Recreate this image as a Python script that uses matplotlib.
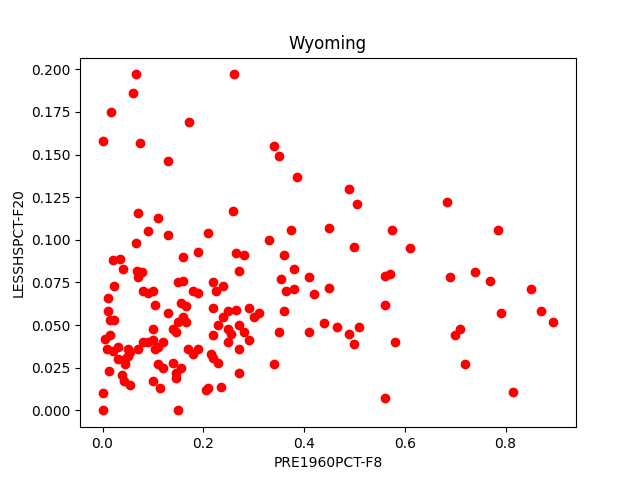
import matplotlib
matplotlib.use("Agg")
import matplotlib.pyplot as plt

pre1960 = [0.0, 0.017, 0.06, 0.066, 0.075, 0.13, 0.172, 0.26,
           0.07, 0.11, 0.258, 0.21, 0.34, 0.35, 0.385, 0.49, 0.505, 0.683,
           0.09, 0.13, 0.33, 0.375, 0.45, 0.575, 0.785,
           0.067, 0.5, 0.61, 0.19, 0.265, 0.28, 0.36, 0.16, 0.02, 0.035,
           0.04, 0.068, 0.078, 0.27, 0.38, 0.56, 0.57, 0.74, 0.69, 0.77, 0.41, 0.355,
           0.15, 0.16, 0.22, 0.24, 0.022, 0.07, 0.08, 0.09, 0.1, 0.18, 0.19, 0.225,
           0.365, 0.38, 0.42, 0.45, 0.85, 0.01, 0.105, 0.155, 0.165, 0.56, 0.22,
           0.25, 0.265, 0.29, 0.3, 0.31, 0.36, 0.01, 0.015, 0.022, 0.13, 0.16,
           0.165, 0.15, 0.24, 0.23, 0.25, 0.27, 0.79, 0.87, 0.895, 0.44, 0.465,
           0.49, 0.51, 0.41, 0.35, 0.71, 0.7, 0.1, 0.14, 0.145, 0.22, 0.255,
           0.005, 0.015, 0.08, 0.09, 0.1, 0.11, 0.105, 0.12, 0.25, 0.27, 0.28,
           0.29, 0.5, 0.58, 0.008, 0.02, 0.03, 0.05, 0.055, 0.07, 0.03, 0.045,
           0.05, 0.045, 0.17, 0.18, 0.19, 0.215, 0.22, 0.23, 0.34, 0.72, 0.14,
           0.11, 0.12, 0.155, 0.038, 0.042, 0.055, 0.1, 0.115, 0.145, 0.145,
           0.21, 0.205, 0.235, 0.27, 0.012, 0.0, 0.0, 0.15, 0.56, 0.815]
lesshs = [0.158, 0.175, 0.186, 0.197, 0.157, 0.146, 0.169, 0.197,
          0.116, 0.113, 0.117, 0.104, 0.155, 0.149, 0.137, 0.13, 0.121, 0.122,
          0.105, 0.103, 0.1, 0.106, 0.107, 0.106, 0.106,
          0.098, 0.096, 0.095, 0.093, 0.092, 0.091, 0.091, 0.09, 0.088, 0.089,
          0.083, 0.082, 0.081, 0.082, 0.083, 0.079, 0.08, 0.081, 0.078, 0.076, 0.078, 0.077,
          0.075, 0.076, 0.075, 0.073, 0.073, 0.078, 0.07, 0.069, 0.07, 0.07, 0.069, 0.07,
          0.07, 0.071, 0.068, 0.072, 0.071, 0.066, 0.062, 0.063, 0.061, 0.062, 0.06,
          0.058, 0.059, 0.06, 0.055, 0.057, 0.058, 0.058, 0.053, 0.053, 0.057, 0.055,
          0.052, 0.052, 0.055, 0.05, 0.048, 0.05, 0.057, 0.058, 0.052, 0.051, 0.049,
          0.045, 0.049, 0.046, 0.046, 0.048, 0.044, 0.048, 0.048, 0.046, 0.044, 0.045,
          0.042, 0.044, 0.04, 0.04, 0.041, 0.037, 0.036, 0.04, 0.04, 0.036, 0.046,
          0.041, 0.039, 0.04, 0.036, 0.035, 0.037, 0.036, 0.034, 0.036, 0.03, 0.03,
          0.032, 0.027, 0.036, 0.033, 0.036, 0.033, 0.031, 0.028, 0.027, 0.027, 0.028,
          0.027, 0.025, 0.025, 0.021, 0.017, 0.015, 0.017, 0.013, 0.022, 0.019,
          0.013, 0.012, 0.014, 0.022, 0.023, 0.01, 0.0, 0.0, 0.007, 0.011]

fig, ax = plt.subplots(figsize=(6.4, 4.8), dpi=100)
ax.scatter(pre1960, lesshs, color="red")
ax.set_title("Wyoming")
ax.set_xlabel("PRE1960PCT-F8")
ax.set_ylabel("LESSHSPCT-F20")
fig.savefig("out.png")
